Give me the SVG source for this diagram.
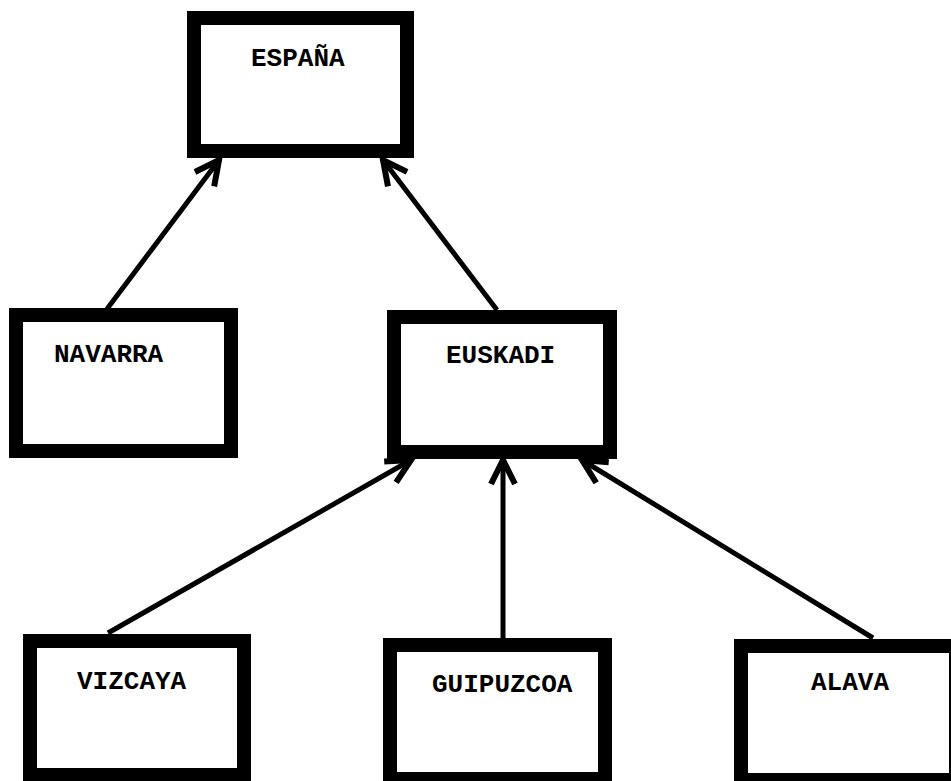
<svg xmlns="http://www.w3.org/2000/svg" width="951" height="781" viewBox="0 0 951 781">
  <style>
    .box { fill: #ffffff; stroke: #000000; stroke-width: 14; }
    .label { font-family: "Liberation Mono", "Courier New", monospace; font-weight: bold; font-size: 26px; fill: #000000; }
    .link { stroke: #000000; stroke-width: 5; fill: none; marker-end: url(#vhead); }
  </style>
  <defs>
    <marker id="vhead" markerUnits="userSpaceOnUse" viewBox="-30 -16 36 32" refX="0" refY="0" markerWidth="36" markerHeight="32" orient="auto" overflow="visible">
      <path d="M-24,-12 L0,0 L-24,12" fill="none" stroke="#000000" stroke-width="6" stroke-linejoin="miter"/>
    </marker>
  </defs>
  <rect width="951" height="781" fill="#ffffff"/>

  <g id="connectors">
    <line class="link" x1="107" y1="309" x2="219" y2="160"/>
    <line class="link" x1="497" y1="310" x2="383" y2="160"/>
    <line class="link" x1="108" y1="633" x2="411" y2="460"/>
    <line class="link" x1="503" y1="638" x2="503" y2="460"/>
    <line class="link" x1="873" y1="638" x2="582" y2="460"/>
  </g>

  <g id="espana">
    <rect class="box" x="194" y="18" width="213" height="133"/>
    <text class="label" x="251" y="66">ESPAÑA</text>
  </g>
  <g id="navarra">
    <rect class="box" x="16" y="315" width="215" height="136"/>
    <text class="label" x="54" y="362">NAVARRA</text>
  </g>
  <g id="euskadi">
    <rect class="box" x="394" y="317" width="216" height="135"/>
    <text class="label" x="446" y="363">EUSKADI</text>
  </g>
  <g id="vizcaya">
    <rect class="box" x="30" y="641" width="214" height="134"/>
    <text class="label" x="77" y="689">VIZCAYA</text>
  </g>
  <g id="guipuzcoa">
    <rect class="box" x="390" y="645" width="215" height="134"/>
    <text class="label" x="432" y="692">GUIPUZCOA</text>
  </g>
  <g id="alava">
    <rect class="box" x="741" y="646" width="215" height="134"/>
    <text class="label" x="811" y="690">ALAVA</text>
  </g>
</svg>
